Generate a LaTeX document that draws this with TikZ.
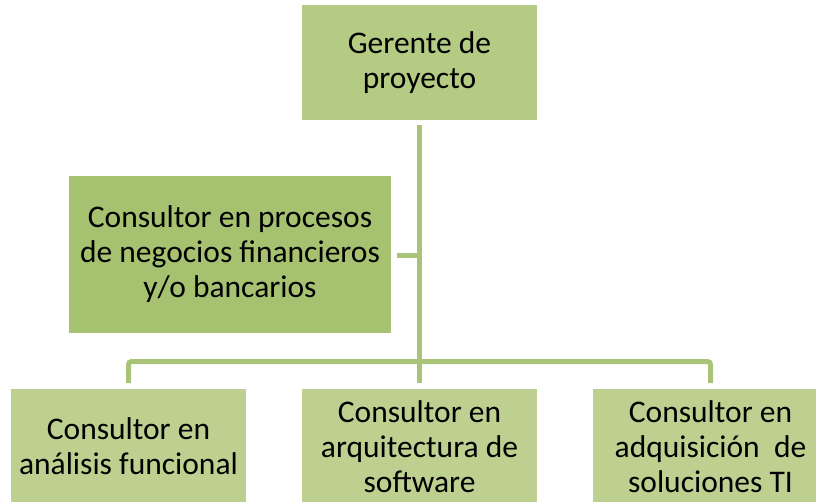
\documentclass[tikz,border=0pt]{standalone}
\usepackage{fontspec}
\setmainfont{Carlito}
\definecolor{topgreen}{HTML}{B3CB82}
\definecolor{midgreen}{HTML}{A6C16F}
\definecolor{lowgreen}{HTML}{BDD08F}
\definecolor{linegreen}{HTML}{A9C478}
\tikzset{
  box/.style={rectangle, inner sep=0pt, outer sep=0pt, minimum width=235pt, minimum height=115pt,
    align=center, font=\fontsize{31.5pt}{35pt}\selectfont, text=black},
  conn/.style={draw=linegreen, line width=5pt}
}
\begin{document}
\begin{tikzpicture}[x=1pt,y=-1pt]
\useasboundingbox (0,0) rectangle (816,502);
\node[box, fill=topgreen] (ger) at (419.5,62.5) {Gerente de\\proyecto};
\node[box, fill=midgreen, minimum width=322pt, minimum height=157pt] (proc) at (230,254.5)
  {Consultor en procesos\\de negocios financieros\\y/o bancarios};
\node[box, fill=lowgreen] (ana) at (128.5,446.5) {Consultor en\\análisis funcional};
\node[box, fill=lowgreen] (arq) at (419.5,446.5) {Consultor en\\arquitectura de\\software};
\node[box, fill=lowgreen] (adq) at (710.5,446.5) {Consultor en\\adquisición\ \ de\\soluciones TI};
\coordinate (bar) at (419.5,361.5);
\draw[conn] ([yshift=-5pt]ger.south) -- ([yshift=6pt]arq.north);
\draw[conn] ([xshift=6pt,yshift=-1.5pt]proc.east) -- ([yshift=-1.5pt]proc.east -| ger.south);
\draw[conn, rounded corners=3pt] ([yshift=6pt]ana.north) |- (bar) -| ([yshift=6pt]adq.north);
\end{tikzpicture}
\end{document}
